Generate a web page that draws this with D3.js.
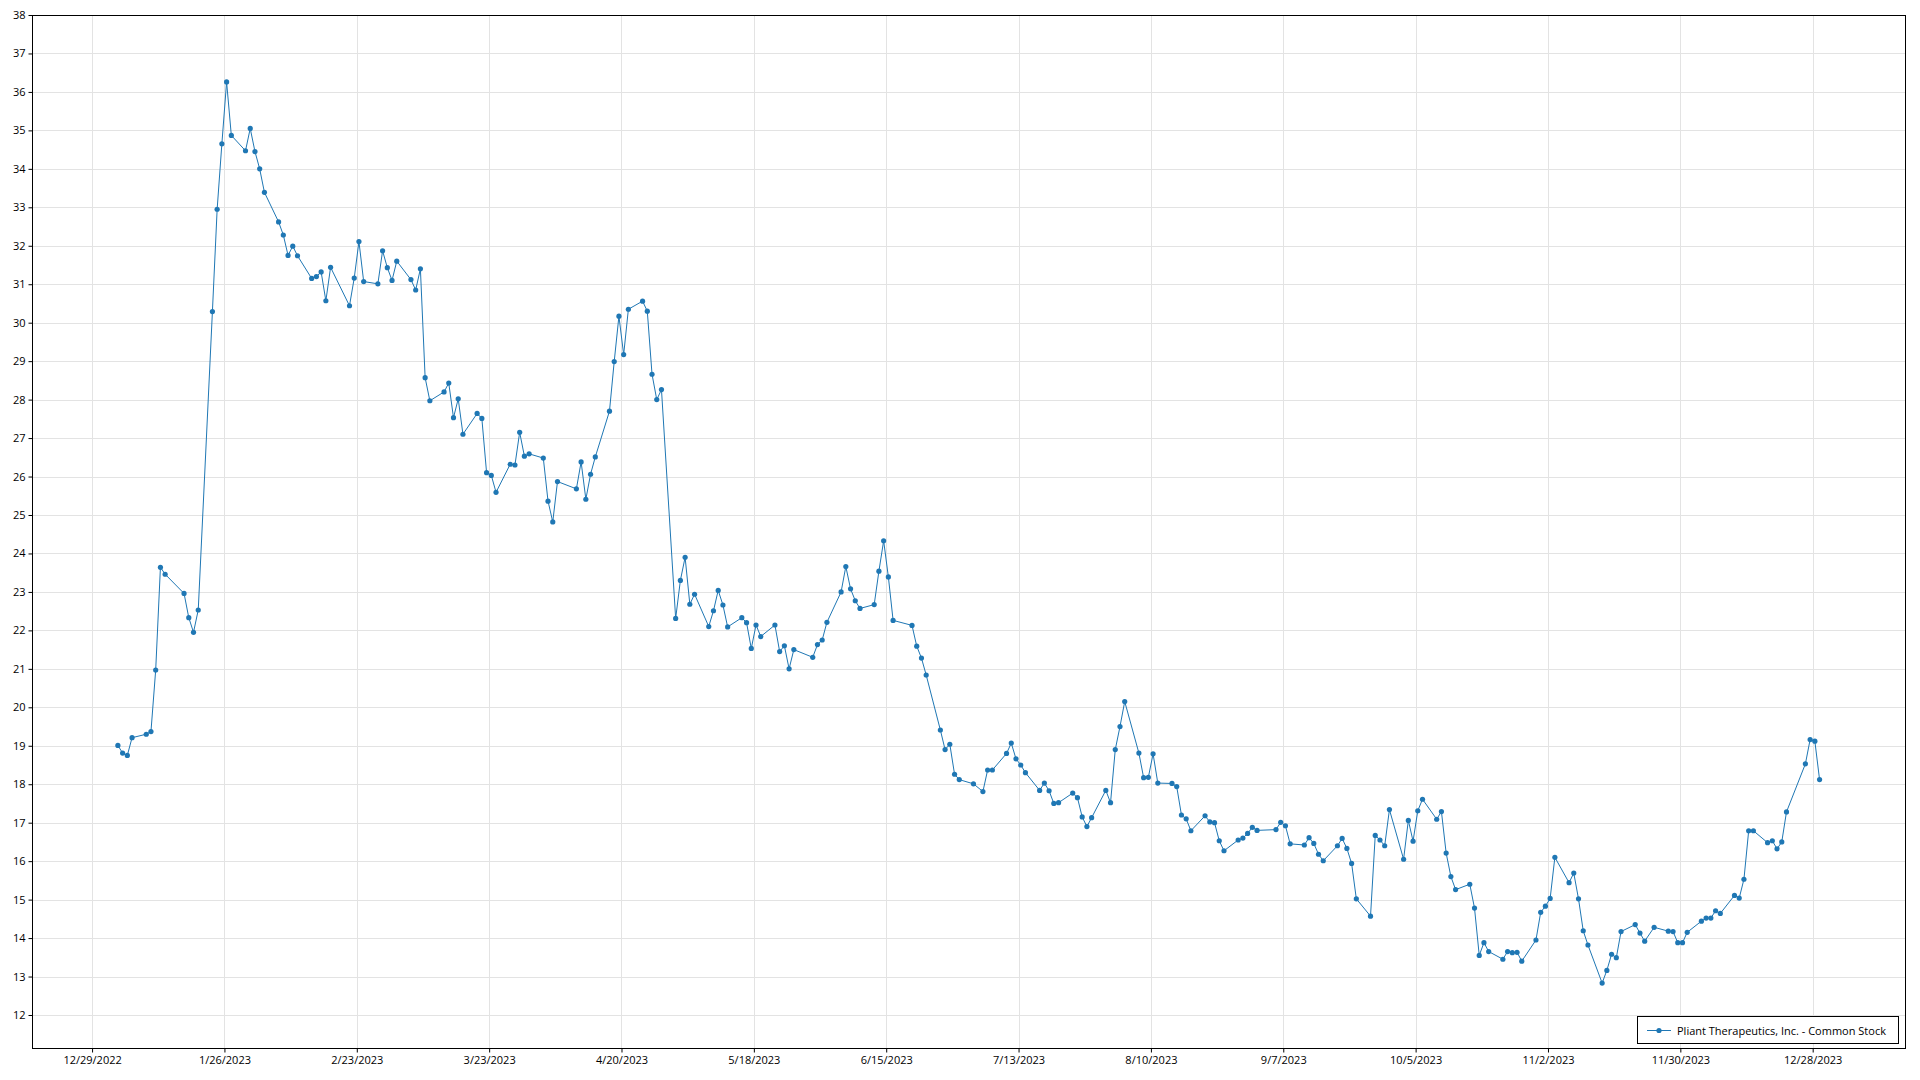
<!DOCTYPE html>
<html><head><meta charset="utf-8">
<script src="https://cdn.jsdelivr.net/npm/d3@7"></script>
<style>
body{margin:0;background:#fff;}
svg{display:block;}
text{font-family:"Segoe UI","Open Sans","Noto Sans",sans-serif;font-size:11px;fill:#000;}
</style>
</head><body>
<svg id="chart" width="1920" height="1080"></svg>
<script>
const seriesName = "Pliant Therapeutics, Inc. - Common Stock";

const janDays = [3,4,5,6,9,10,11,12,13,17,18,19,20,23,24,25,26,27,30,31];
const janClose = [19.01,18.81,18.75,19.21,19.30,19.37,20.97,23.64,23.46,22.96,22.33,21.95,22.53,30.29,32.95,34.65,36.26,34.87,34.47,35.05];
const febDays = [1,2,3,6,7,8,9,10,13,14,15,16,17,21,22,23,24,27,28];
const febClose = [34.45,34.00,33.39,32.62,32.28,31.75,31.99,31.74,31.15,31.20,31.32,30.57,31.44,30.44,31.16,32.11,31.07,31.01,31.87];
const marDays = [1,2,3,6,7,8,9,10,13,14,15,16,17,20,21,22,23,24,27,28,29,30,31];
const marClose = [31.43,31.10,31.60,31.12,30.85,31.40,28.57,27.97,28.20,28.43,27.53,28.02,27.10,27.64,27.51,26.10,26.03,25.59,26.32,26.30,27.15,26.53,26.59];
const aprDays = [3,4,5,6,10,11,12,13,14,17,18,19,20,21,24,25,26,27,28];
const aprClose = [26.48,25.36,24.82,25.87,25.68,26.38,25.41,26.06,26.51,27.70,28.99,30.17,29.17,30.35,30.56,30.30,28.66,28.00,28.26];
const mayDays = [1,2,3,4,5,8,9,10,11,12,15,16,17,18,19,22,23,24,25,26,30,31];
const mayClose = [22.31,23.30,23.90,22.68,22.94,22.10,22.51,23.04,22.66,22.09,22.33,22.20,21.53,22.14,21.84,22.14,21.45,21.60,21.00,21.50,21.30,21.63];
const junDays = [1,2,5,6,7,8,9,12,13,14,15,16,20,21,22,23,26,27,28,29,30];
const junClose = [21.75,22.21,23.00,23.66,23.08,22.77,22.57,22.67,23.54,24.33,23.39,22.26,22.13,21.59,21.28,20.84,19.41,18.90,19.04,18.26,18.12];
const julDays = [3,5,6,7,10,11,12,13,14,17,18,19,20,21,24,25,26,27,28,31];
const julClose = [18.01,17.81,18.37,18.37,18.80,19.07,18.66,18.50,18.30,17.84,18.03,17.83,17.50,17.52,17.77,17.65,17.15,16.90,17.13,17.84];
const augDays = [1,2,3,4,7,8,9,10,11,14,15,16,17,18,21,22,23,24,25,28,29,30,31];
const augClose = [17.52,18.90,19.50,20.15,18.81,18.17,18.18,18.79,18.03,18.02,17.94,17.20,17.10,16.79,17.18,17.02,17.00,16.53,16.27,16.55,16.60,16.72,16.88];
const sepDays = [1,5,6,7,8,11,12,13,14,15,18,19,20,21,22,25,26,27,28,29];
const sepClose = [16.80,16.82,17.01,16.92,16.45,16.42,16.61,16.46,16.18,16.01,16.40,16.59,16.33,15.94,15.02,14.57,16.67,16.55,16.40,17.34];
const octDays = [2,3,4,5,6,9,10,11,12,13,16,17,18,19,20,23,24,25,26,27,30,31];
const octClose = [16.05,17.06,16.52,17.31,17.61,17.09,17.29,16.21,15.60,15.26,15.40,14.78,13.55,13.88,13.65,13.45,13.65,13.62,13.63,13.40,13.95,14.67];
const novDays = [1,2,3,6,7,8,9,10,13,14,15,16,17,20,21,22,24,27,28,29,30];
const novClose = [14.83,15.03,16.10,15.44,15.69,15.02,14.19,13.82,12.83,13.16,13.58,13.49,14.17,14.35,14.13,13.92,14.28,14.18,14.17,13.88,13.88];
const decDays = [1,4,5,6,7,8,11,12,13,14,15,18,19,20,21,22,26,27,28,29];
const decClose = [14.15,14.44,14.52,14.52,14.71,14.64,15.11,15.04,15.53,16.79,16.79,16.48,16.53,16.32,16.50,17.28,18.53,19.16,19.12,18.12];

const xTickLabels = ["12/29/2022","1/26/2023","2/23/2023","3/23/2023","4/20/2023","5/18/2023","6/15/2023","7/13/2023","8/10/2023","9/7/2023","10/5/2023","11/2/2023","11/30/2023","12/28/2023"];
const yTicks = d3.range(12, 39, 1);
const xDomain = ["2022-12-16T06:58:00","2024-01-16T12:43:00"];
const yDomain = [11.142, 38];

const monthDays = [janDays,febDays,marDays,aprDays,mayDays,junDays,julDays,augDays,sepDays,octDays,novDays,decDays];
const monthClose = [janClose,febClose,marClose,aprClose,mayClose,junClose,julClose,augClose,sepClose,octClose,novClose,decClose];
const data = [];
monthDays.forEach((days, m) => days.forEach((d, i) => data.push({date: new Date(2023, m, d, 11, 0), v: monthClose[m][i]})));

const L = 32, R = 1905, T = 15, B = 1048;
const color = "#1f77b4";
const svg = d3.select("#chart");
const x = d3.scaleTime().domain(xDomain.map(s => new Date(s))).range([L, R]);
const y = d3.scaleLinear().domain(yDomain).range([B, T]);
const parseTick = d3.timeParse("%m/%d/%Y");
const xTicks = xTickLabels.map(s => parseTick(s));

// gridlines
svg.append("g").selectAll("line").data(yTicks).join("line")
  .attr("x1", L).attr("x2", R).attr("y1", d => Math.round(y(d)) + 0.5).attr("y2", d => Math.round(y(d)) + 0.5)
  .attr("stroke", "#e3e3e3").attr("stroke-width", 1);
svg.append("g").selectAll("line").data(xTicks).join("line")
  .attr("y1", T).attr("y2", B).attr("x1", d => Math.round(x(d)) + 0.5).attr("x2", d => Math.round(x(d)) + 0.5)
  .attr("stroke", "#e3e3e3").attr("stroke-width", 1);

// axes
const yAxis = d3.axisLeft(y).tickValues(yTicks).tickSize(4).tickPadding(3).tickFormat(d3.format("d"));
const gy = svg.append("g").attr("transform", `translate(${L + 0.5},0)`).call(yAxis);
gy.select(".domain").remove();
gy.selectAll("text").style("font-size", "11px").attr("fill", "#000");
const xAxis = d3.axisBottom(x).tickValues(xTicks).tickSize(4).tickPadding(4).tickFormat((d, i) => xTickLabels[i]);
const gx = svg.append("g").attr("transform", `translate(0,${B + 0.5})`).call(xAxis);
gx.select(".domain").remove();
gx.selectAll("text").style("font-size", "11px").attr("fill", "#000");

// plot border
svg.append("rect").attr("x", L + 0.5).attr("y", T + 0.5).attr("width", R - L).attr("height", B - T)
  .attr("fill", "none").attr("stroke", "#000").attr("stroke-width", 1);

// series
const line = d3.line().x(d => x(d.date)).y(d => y(d.v));
svg.append("path").datum(data).attr("d", line).attr("fill", "none").attr("stroke", color).attr("stroke-width", 1);
svg.append("g").selectAll("circle").data(data).join("circle")
  .attr("cx", d => x(d.date)).attr("cy", d => y(d.v)).attr("r", 2.6).attr("fill", color);

// legend
const lg = svg.append("g").attr("transform", "translate(1637,1016)");
lg.append("rect").attr("x", 0.5).attr("y", 0.5).attr("width", 261).attr("height", 27).attr("fill", "#fff").attr("stroke", "#000");
lg.append("line").attr("x1", 10).attr("x2", 34).attr("y1", 14.5).attr("y2", 14.5).attr("stroke", color).attr("stroke-width", 1);
lg.append("circle").attr("cx", 22).attr("cy", 14.5).attr("r", 2.6).attr("fill", color);
lg.append("text").attr("x", 40).attr("y", 18.5).text(seriesName).style("font-size", "11px");
</script>
</body></html>
